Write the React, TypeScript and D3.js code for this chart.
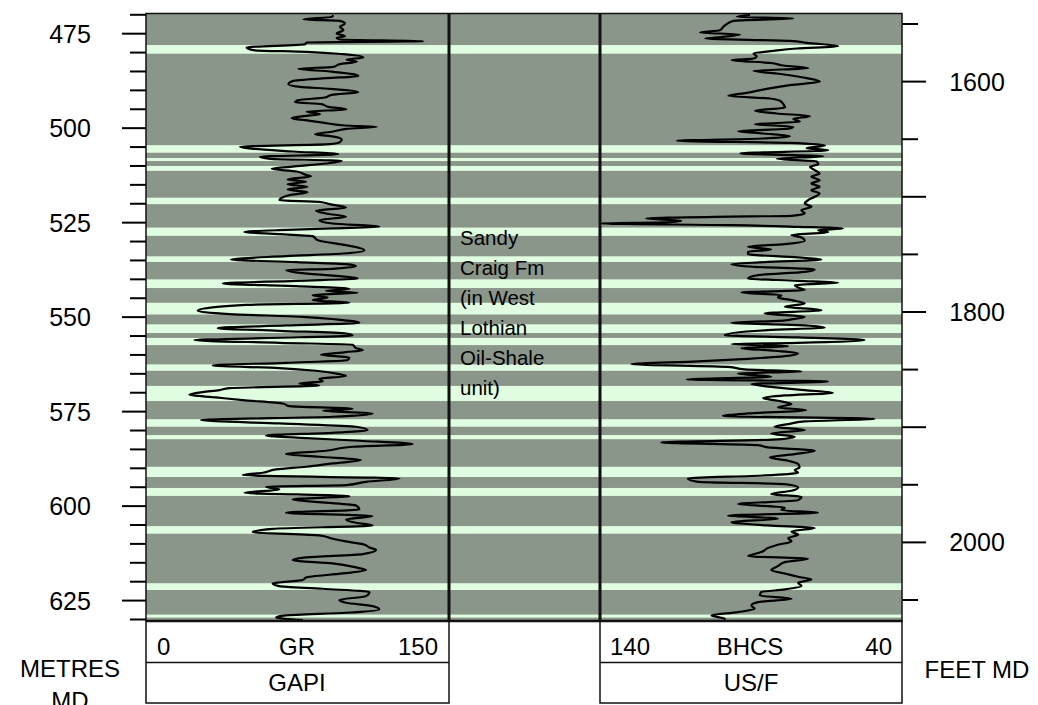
import React from "react";
import * as d3 from "d3";

// light (sand) bands, metres MD: [top, base]
const sandBands: [number, number][] = [
  [478.0, 480.3], [504.5, 506.5], [507.9, 508.7], [510.0, 511.3],
  [518.4, 520.1], [526.3, 528.5], [533.9, 535.4], [540.0, 542.3],
  [546.2, 549.3], [551.9, 554.2], [555.5, 557.4], [562.5, 564.2],
  [568.2, 572.2], [577.0, 579.0], [581.2, 582.3], [589.6, 592.3],
  [595.2, 597.3], [605.3, 607.3], [620.4, 622.2], [628.7, 629.5],
];

// GR (GAPI) vs depth (m)
const grPoints: [number, number][] = [
  [470.1, 92.7], [470.55, 91.9], [471.25, 77.9], [471.6, 96.0], [472.31, 98.5], [473.19, 96.0],
  [474.07, 97.7], [474.96, 94.4], [475.66, 98.5], [476.1, 94.4], [476.54, 96.0], [476.98, 137.3],
  [477.34, 79.5], [477.78, 78.7], [478.66, 49.8], [479.37, 53.1], [479.81, 79.5], [480.42, 97.7],
  [481.3, 107.6], [481.83, 99.3], [482.45, 104.3], [483.07, 96.0], [483.77, 92.7], [484.3, 75.4],
  [485.01, 91.1], [485.71, 102.6], [486.24, 105.1], [486.77, 89.4], [487.48, 72.9], [488.36, 70.5],
  [489.07, 76.2], [489.59, 91.1], [490.47, 105.1], [491.18, 91.9], [491.89, 88.6], [492.59, 75.4],
  [493.12, 73.8], [493.65, 86.9], [494.35, 90.3], [495.06, 99.3], [495.59, 79.5], [496.3, 86.1],
  [496.82, 77.9], [497.35, 72.1], [498.06, 81.2], [498.76, 90.3], [499.29, 98.5], [499.65, 114.2],
  [500.18, 99.3], [500.88, 92.7], [501.59, 83.7], [502.29, 93.6], [503.0, 96.9], [503.7, 96.0],
  [504.23, 91.1], [504.94, 46.5], [505.47, 53.1], [506.17, 72.9], [506.88, 95.2], [507.58, 56.4],
  [508.11, 61.4], [508.64, 96.9], [509.35, 89.4], [510.23, 71.3], [510.76, 62.2], [511.46, 74.6],
  [512.43, 79.5], [512.7, 81.7], [513.58, 70.1], [514.2, 79.2], [514.81, 70.1], [515.52, 80.0],
  [516.22, 70.1], [516.93, 80.0], [517.72, 71.0], [519.05, 66.0], [519.49, 85.8], [520.1, 90.8],
  [520.99, 99.0], [521.87, 84.2], [522.57, 89.1], [523.45, 99.0], [524.34, 85.8], [525.22, 92.4],
  [526.1, 115.5], [526.54, 92.4], [526.98, 66.0], [527.51, 48.7], [528.04, 66.0], [528.57, 82.5],
  [529.63, 85.0], [530.95, 99.0], [532.27, 108.1], [533.16, 97.4], [533.86, 69.3], [534.74, 42.1],
  [535.45, 74.3], [535.98, 99.0], [536.5, 104.0], [537.21, 92.4], [537.56, 69.3], [538.27, 75.9],
  [539.15, 95.7], [539.77, 104.8], [540.39, 74.3], [541.09, 38.0], [541.8, 74.3], [542.5, 100.7],
  [543.03, 89.1], [543.56, 104.8], [544.18, 82.5], [544.8, 89.9], [545.5, 82.5], [546.21, 100.7],
  [546.73, 49.5], [547.44, 33.0], [548.32, 25.6], [549.2, 41.3], [549.91, 77.6], [550.61, 94.1],
  [551.5, 105.6], [552.2, 69.3], [552.91, 35.5], [553.61, 66.0], [554.32, 99.0], [554.85, 102.3],
  [555.55, 57.8], [556.08, 23.9], [556.79, 66.0], [557.32, 102.3], [558.2, 104.0], [558.73, 107.3],
  [559.26, 99.0], [559.96, 86.6], [560.67, 100.7], [561.37, 99.8], [562.08, 69.3], [562.78, 33.0],
  [563.49, 66.0], [564.19, 84.2], [565.08, 95.7], [565.6, 99.0], [566.31, 85.8], [567.02, 87.5],
  [567.54, 75.9], [568.07, 85.8], [568.78, 41.3], [569.31, 36.3], [569.83, 28.1], [570.54, 21.5],
  [571.25, 34.7], [571.95, 47.9], [572.84, 67.7], [573.54, 71.0], [574.25, 102.3], [574.77, 87.5],
  [575.48, 112.2], [576.36, 92.4], [577.24, 27.2], [578.13, 66.0], [579.01, 104.0], [579.89, 109.7],
  [580.6, 92.4], [581.3, 59.4], [582.01, 79.2], [582.71, 105.6], [583.59, 132.0], [584.3, 102.3],
  [585.36, 89.1], [586.24, 69.3], [586.94, 85.8], [587.83, 106.4], [588.71, 92.4], [589.59, 79.2],
  [590.3, 64.4], [591.18, 57.8], [591.8, 47.9], [592.68, 125.4], [593.57, 108.9], [594.45, 99.0],
  [594.89, 59.4], [595.59, 66.0], [596.48, 48.7], [597.36, 100.7], [598.24, 72.6], [598.95, 85.8],
  [599.83, 104.0], [600.89, 105.6], [601.77, 69.3], [602.65, 112.2], [603.53, 99.0], [604.41, 104.0],
  [605.12, 112.2], [606.0, 62.7], [606.88, 52.8], [607.76, 85.8], [608.64, 92.4], [609.35, 99.0],
  [610.06, 107.3], [610.94, 110.6], [611.64, 113.9], [612.7, 107.3], [613.58, 79.2], [614.29, 72.6],
  [615.17, 92.4], [616.23, 104.0], [616.93, 108.9], [617.82, 97.4], [618.87, 79.2], [619.58, 77.6],
  [620.46, 62.7], [621.17, 66.0], [621.87, 87.5], [622.76, 110.6], [623.81, 108.9], [624.87, 95.7],
  [625.58, 99.0], [626.46, 112.2], [627.34, 115.5], [628.22, 99.0], [628.93, 69.3], [629.46, 64.4],
  [630.16, 77.6],
];

// BHCS (US/F) vs depth (m)
const bhcsPoints: [number, number][] = [
  [470.02, 90.3], [470.55, 94.7], [470.99, 76.0], [471.6, 95.8], [472.49, 98.1], [473.19, 99.2],
  [474.07, 100.3], [474.69, 106.9], [475.22, 93.6], [475.84, 99.2], [476.28, 105.2], [476.9, 77.1],
  [477.42, 71.6], [478.31, 61.1], [478.92, 74.9], [479.54, 82.6], [480.25, 89.2], [480.95, 88.1],
  [481.57, 89.2], [482.01, 96.4], [482.72, 83.7], [483.42, 79.3], [484.13, 71.0], [484.83, 89.2],
  [485.54, 81.5], [486.6, 72.7], [487.65, 67.2], [488.62, 77.1], [489.59, 84.8], [490.65, 91.4],
  [491.45, 97.5], [492.15, 83.7], [492.77, 80.4], [493.65, 79.3], [494.53, 78.7], [495.41, 88.7],
  [496.12, 81.5], [496.82, 70.5], [497.53, 76.0], [498.32, 73.8], [498.94, 88.7], [499.65, 76.0],
  [500.09, 77.1], [500.79, 94.2], [501.41, 85.9], [502.12, 77.1], [502.73, 85.9], [503.35, 114.6],
  [503.88, 77.1], [504.58, 65.5], [505.29, 71.6], [505.82, 64.4], [506.7, 93.6], [507.41, 66.0],
  [508.11, 81.5], [508.82, 68.3], [509.52, 67.7], [510.23, 70.5], [511.11, 68.9], [511.99, 67.3],
  [512.87, 70.0], [513.76, 67.3], [514.64, 70.0], [515.52, 67.3], [516.4, 70.0], [517.28, 67.3],
  [518.16, 68.9], [519.05, 71.1], [519.93, 72.2], [520.81, 70.0], [521.69, 73.3], [522.57, 72.2],
  [523.19, 76.6], [523.45, 102.0], [523.9, 124.7], [524.51, 113.1], [524.95, 118.6], [525.22, 139.6],
  [525.66, 96.5], [526.1, 74.4], [526.54, 59.5], [526.98, 67.8], [527.51, 64.5], [528.3, 76.6],
  [528.92, 73.3], [529.8, 72.2], [530.69, 78.8], [531.39, 91.0], [532.1, 83.3], [532.71, 91.0],
  [533.33, 91.0], [534.21, 74.4], [534.74, 66.7], [535.45, 85.5], [535.98, 96.5], [536.68, 88.8],
  [537.39, 68.9], [538.0, 72.2], [538.89, 87.7], [539.77, 91.0], [540.39, 74.4], [540.91, 61.2],
  [541.53, 75.5], [542.15, 74.4], [542.85, 72.2], [543.47, 93.2], [544.18, 79.9], [544.8, 81.1],
  [545.5, 76.6], [546.38, 72.2], [547.26, 78.8], [548.15, 66.7], [549.03, 85.5], [549.91, 72.2],
  [550.61, 76.6], [551.0, 81.1], [551.5, 96.5], [552.11, 74.4], [552.73, 65.6], [553.44, 84.4],
  [554.76, 98.7], [555.38, 74.4], [556.08, 52.4], [556.79, 74.4], [557.14, 96.5], [557.67, 77.7],
  [558.2, 93.2], [558.9, 82.2], [559.61, 74.4], [560.31, 78.8], [561.02, 91.0], [561.72, 107.5],
  [562.43, 129.6], [563.14, 97.6], [563.84, 92.1], [564.37, 73.3], [564.9, 94.3], [565.78, 83.3],
  [566.49, 111.4], [567.02, 64.5], [567.72, 89.9], [568.43, 83.3], [569.31, 72.2], [570.01, 62.9],
  [570.72, 78.8], [571.42, 86.0], [572.13, 81.1], [573.01, 76.6], [573.89, 81.1], [574.6, 71.7],
  [575.48, 91.0], [576.18, 99.3], [576.89, 49.1], [577.6, 72.2], [578.3, 77.7], [579.01, 82.2],
  [579.89, 72.2], [580.77, 83.3], [581.65, 75.5], [582.36, 81.1], [583.15, 119.7], [583.86, 87.7],
  [584.48, 84.4], [585.36, 68.9], [586.24, 75.5], [587.12, 83.8], [588.0, 77.7], [588.88, 74.4],
  [589.77, 73.9], [590.47, 75.5], [591.18, 74.4], [591.89, 85.5], [592.68, 110.9], [593.57, 107.5],
  [594.18, 78.8], [595.07, 74.4], [595.95, 76.6], [596.83, 83.3], [597.53, 73.3], [598.42, 74.4],
  [599.47, 94.3], [600.36, 78.8], [601.06, 80.0], [601.77, 67.8], [602.47, 97.6], [603.35, 81.1],
  [604.24, 96.5], [605.12, 84.4], [605.82, 68.9], [606.7, 76.6], [607.59, 74.4], [608.47, 77.7],
  [609.35, 76.6], [610.23, 81.1], [611.11, 84.4], [612.17, 86.6], [613.23, 91.0], [613.94, 71.1],
  [614.82, 78.8], [615.88, 81.1], [616.93, 83.3], [617.82, 78.8], [618.7, 74.4], [619.4, 70.0],
  [620.29, 74.4], [621.17, 73.3], [622.05, 78.8], [622.75, 86.6], [623.64, 87.1], [624.52, 76.6],
  [625.4, 87.7], [626.28, 89.9], [627.17, 88.8], [628.05, 94.3], [628.93, 103.1], [629.81, 98.7],
  [630.34, 98.7],
];

const metreLabels = [475, 500, 525, 550, 575, 600, 625];
const feetLabels = [1600, 1800, 2000];
const formationLines = ["Sandy", "Craig Fm", "(in West", "Lothian", "Oil-Shale", "unit)"];

const FONT = "'Liberation Sans', Arial, Helvetica, sans-serif";
const GREY = "#8b968a";
const SAND = "#e1fde1";

const top = 13.5;
const bottom = 621;
const grL = 146, grR = 449, midR = 600, bhR = 902;

export default function App() {
  const y = d3.scaleLinear().domain([469.66, 630.4]).range([top, bottom]);
  const yFt = d3.scaleLinear().domain([469.66 / 0.3048, 630.4 / 0.3048]).range([top, bottom]);
  const xGR = d3.scaleLinear().domain([0, 150]).range([grL, grR]);
  const xBH = d3.scaleLinear().domain([140, 40]).range([midR, bhR]);

  const grLine = d3.line<[number, number]>().x((d) => xGR(d[1])).y((d) => y(d[0])).curve(d3.curveMonotoneY);
  const bhLine = d3.line<[number, number]>().x((d) => xBH(d[1])).y((d) => y(d[0])).curve(d3.curveMonotoneY);

  const metreTicks = d3.range(470, 631, 5);
  const feetTicks = d3.range(1550, 2051, 50);

  return (
    <svg width={1038} height={705} style={{ position: "absolute", left: 0, top: 0, background: "#fff" }} fontFamily={FONT}>
      <defs>
        <clipPath id="clipGR"><rect x={grL} y={top} width={grR - grL} height={bottom - top} /></clipPath>
        <clipPath id="clipBH"><rect x={midR} y={top} width={bhR - midR} height={bottom - top} /></clipPath>
      </defs>

      <rect x={grL} y={top} width={bhR - grL} height={bottom - top} fill={GREY} />
      {sandBands.map(([a, b], i) => (
        <rect key={i} x={grL} y={y(a)} width={bhR - grL} height={y(b) - y(a)} fill={SAND} />
      ))}

      <path d={grLine(grPoints) || ""} fill="none" stroke="#000" strokeWidth={2.2} strokeLinejoin="round" clipPath="url(#clipGR)" />
      <path d={bhLine(bhcsPoints) || ""} fill="none" stroke="#000" strokeWidth={2.2} strokeLinejoin="round" clipPath="url(#clipBH)" />

      {/* track frames */}
      <rect x={grL} y={top} width={bhR - grL} height={bottom - top} fill="none" stroke="#111" strokeWidth={1.5} />
      <line x1={grR} x2={grR} y1={top} y2={bottom} stroke="#111" strokeWidth={3} />
      <line x1={midR} x2={midR} y1={top} y2={bottom} stroke="#111" strokeWidth={3} />
      <line x1={grL} x2={bhR} y1={bottom} y2={bottom} stroke="#111" strokeWidth={2.5} />

      {/* metres axis */}
      {metreTicks.map((t) => (
        <line key={t} x1={t % 25 === 0 ? 122 : 130} x2={grL} y1={y(t)} y2={y(t)} stroke="#000" strokeWidth={2} />
      ))}
      {metreLabels.map((t) => (
        <text key={t} x={70} y={y(t)} dy="0.36em" textAnchor="middle" fontSize={25}>{t}</text>
      ))}

      {/* feet axis */}
      {feetTicks.map((t) => (
        <line key={t} x1={bhR} x2={t % 100 === 0 ? 926 : 918} y1={yFt(t)} y2={yFt(t)} stroke="#000" strokeWidth={2} />
      ))}
      {feetLabels.map((t) => (
        <text key={t} x={977} y={yFt(t)} dy="0.36em" textAnchor="middle" fontSize={25}>{t}</text>
      ))}

      {/* formation label */}
      <text x={460} y={245} fontSize={20.5}>
        {formationLines.map((s, i) => (
          <tspan key={i} x={460} dy={i === 0 ? 0 : 30}>{s}</tspan>
        ))}
      </text>

      {/* headers */}
      <g fill="none" stroke="#111" strokeWidth={1.5}>
        <rect x={grL} y={bottom} width={grR - grL} height={82} />
        <line x1={grL} x2={grR} y1={662.5} y2={662.5} />
        <rect x={midR} y={bottom} width={bhR - midR} height={82} />
        <line x1={midR} x2={bhR} y1={662.5} y2={662.5} />
      </g>
      <g fontSize={24}>
        <text x={157} y={655}>0</text>
        <text x={297} y={655} textAnchor="middle">GR</text>
        <text x={438} y={655} textAnchor="end">150</text>
        <text x={297} y={691} textAnchor="middle">GAPI</text>
        <text x={610} y={655}>140</text>
        <text x={750} y={655} textAnchor="middle">BHCS</text>
        <text x={892} y={655} textAnchor="end">40</text>
        <text x={751} y={691} textAnchor="middle">US/F</text>
        <text x={70} y={677} textAnchor="middle">METRES</text>
        <text x={70} y={709} textAnchor="middle">MD</text>
        <text x={977} y={678} textAnchor="middle">FEET MD</text>
      </g>
    </svg>
  );
}
